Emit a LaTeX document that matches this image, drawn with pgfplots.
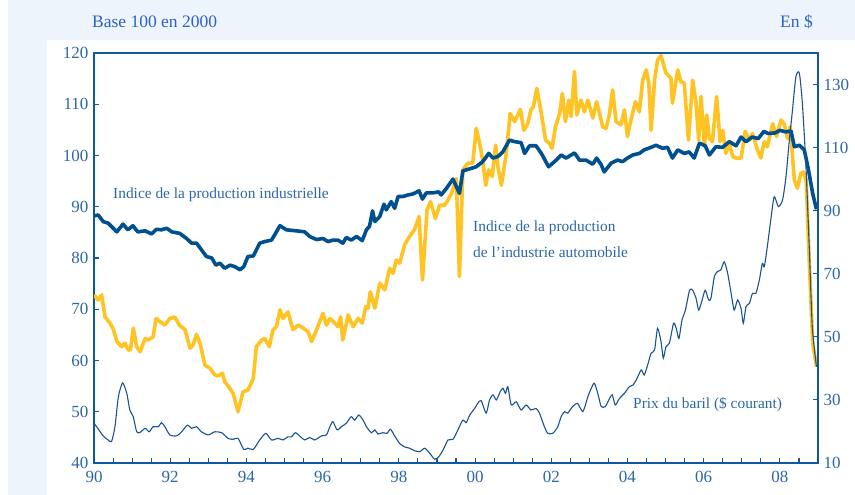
\documentclass[border=0pt]{standalone}
\usepackage{pgfplots}
\usepackage{pgfplotstable}
\pgfplotsset{compat=1.18}
\usepackage{fontspec}
\setmainfont{Liberation Serif}
\definecolor{bgblue}{HTML}{EDF4FC}
\definecolor{axblue}{HTML}{11589A}
\definecolor{ipblue}{HTML}{00508F}
\definecolor{autoyel}{HTML}{FFC324}
\definecolor{oilblue}{HTML}{1A5490}
\definecolor{txtblue}{HTML}{2C68A6}
\definecolor{titleblue}{HTML}{2E62C8}

\pgfplotstableread{
t v
1990.00 88.2
1990.11 88.4
1990.24 87.1
1990.37 86.8
1990.60 85.1
1990.76 86.6
1990.89 85.5
1991.02 86.3
1991.15 85.1
1991.34 85.3
1991.51 84.7
1991.64 85.6
1991.77 85.5
1991.91 85.8
1992.04 85.1
1992.25 84.8
1992.43 83.8
1992.56 82.9
1992.69 82.9
1992.82 81.6
1992.95 80.3
1993.09 80.0
1993.20 78.6
1993.30 79.0
1993.43 78.0
1993.57 78.6
1993.70 78.3
1993.83 77.7
1993.93 78.3
1994.04 80.3
1994.18 80.4
1994.35 82.9
1994.48 83.2
1994.66 83.5
1994.74 84.5
1994.88 86.3
1995.05 85.5
1995.31 85.3
1995.53 85.1
1995.66 84.2
1995.84 83.6
1996.01 83.8
1996.14 83.2
1996.27 83.5
1996.40 83.5
1996.53 82.9
1996.62 84.0
1996.75 83.5
1996.89 84.2
1997.04 83.4
1997.15 85.5
1997.23 86.2
1997.31 89.2
1997.37 87.1
1997.50 88.1
1997.61 90.5
1997.67 89.4
1997.80 91.0
1997.89 89.7
1997.98 92.0
1998.11 92.0
1998.24 92.3
1998.37 92.5
1998.53 93.1
1998.62 91.5
1998.72 92.7
1998.89 92.7
1999.05 92.9
1999.11 92.3
1999.25 93.6
1999.42 95.4
1999.59 92.6
1999.68 97.0
1999.86 97.4
2000.03 97.8
2000.20 98.8
2000.36 100.4
2000.47 99.5
2000.60 99.8
2000.73 100.7
2000.90 103.0
2001.04 102.7
2001.21 102.5
2001.30 100.4
2001.43 101.9
2001.60 101.9
2001.74 100.4
2001.93 97.8
2002.13 99.1
2002.26 100.1
2002.39 99.5
2002.61 100.5
2002.74 99.1
2002.91 99.1
2003.09 98.3
2003.19 99.5
2003.31 98.2
2003.39 96.8
2003.57 98.5
2003.74 99.1
2003.87 98.8
2004.00 99.5
2004.14 100.1
2004.31 100.4
2004.44 101.1
2004.62 101.6
2004.75 102.0
2004.92 101.4
2005.05 101.6
2005.18 99.5
2005.32 101.1
2005.49 100.4
2005.62 100.7
2005.75 99.5
2005.89 102.4
2006.04 101.9
2006.15 100.1
2006.32 101.7
2006.50 101.6
2006.67 102.7
2006.85 101.9
2006.98 103.6
2007.11 102.7
2007.27 103.6
2007.43 103.3
2007.58 104.7
2007.69 104.3
2007.87 104.4
2008.00 104.9
2008.16 104.6
2008.29 104.8
2008.38 101.7
2008.51 102.0
2008.64 101.1
2008.75 97.2
2008.86 92.6
2008.96 89.5
}\ipdata

\pgfplotstableread{
t v
1990.00 72.8
1990.11 71.8
1990.20 72.8
1990.29 68.5
1990.42 67.3
1990.51 66.0
1990.60 63.7
1990.73 62.7
1990.81 63.4
1990.90 62.0
1990.96 62.2
1991.03 66.3
1991.12 62.7
1991.21 61.7
1991.34 64.3
1991.42 64.0
1991.55 64.6
1991.63 68.2
1991.73 67.6
1991.86 66.9
1991.99 68.2
1992.12 68.5
1992.24 66.9
1992.39 66.0
1992.52 62.4
1992.60 63.0
1992.69 65.1
1992.78 63.4
1992.91 59.1
1993.04 58.5
1993.17 57.2
1993.26 57.0
1993.37 57.5
1993.43 55.9
1993.56 54.6
1993.65 53.6
1993.78 50.0
1993.91 53.9
1994.04 54.2
1994.18 56.5
1994.26 62.7
1994.40 64.0
1994.48 64.3
1994.60 62.7
1994.70 66.0
1994.79 66.6
1994.88 69.9
1994.96 68.2
1995.09 69.5
1995.22 66.0
1995.36 66.9
1995.49 66.3
1995.62 65.6
1995.71 63.7
1995.84 66.0
1996.01 69.2
1996.10 66.9
1996.19 68.2
1996.32 67.3
1996.40 66.6
1996.47 68.5
1996.53 64.0
1996.67 68.9
1996.80 66.6
1996.93 68.2
1997.04 67.3
1997.13 70.5
1997.19 70.2
1997.25 73.4
1997.37 70.2
1997.50 75.1
1997.63 73.8
1997.76 78.0
1997.85 77.0
1997.93 79.6
1998.02 79.0
1998.15 82.5
1998.28 84.2
1998.41 85.5
1998.53 88.1
1998.62 75.7
1998.74 89.4
1998.83 91.0
1998.96 87.7
1999.07 90.3
1999.20 90.3
1999.29 91.3
1999.38 92.6
1999.51 95.5
1999.59 76.4
1999.68 97.2
1999.81 98.5
1999.94 98.5
2000.03 105.3
2000.12 102.4
2000.20 99.1
2000.28 94.2
2000.36 97.2
2000.45 95.9
2000.54 102.0
2000.60 97.8
2000.69 94.2
2000.82 100.4
2000.92 108.2
2001.04 106.6
2001.19 109.0
2001.28 104.9
2001.38 106.2
2001.47 109.0
2001.53 109.5
2001.62 113.1
2001.74 108.2
2001.85 103.0
2001.95 102.4
2002.02 101.4
2002.11 105.6
2002.22 108.2
2002.29 112.1
2002.37 106.6
2002.46 110.8
2002.52 107.6
2002.61 116.4
2002.67 107.9
2002.78 110.8
2002.87 108.5
2002.96 110.8
2003.09 107.3
2003.19 110.5
2003.35 105.6
2003.44 105.3
2003.53 108.2
2003.61 112.8
2003.70 106.6
2003.83 106.0
2003.92 108.9
2004.00 103.7
2004.09 106.9
2004.21 110.5
2004.31 108.5
2004.40 114.7
2004.49 116.7
2004.56 114.1
2004.62 104.9
2004.71 114.7
2004.79 118.6
2004.88 119.5
2005.01 116.1
2005.14 115.1
2005.18 110.2
2005.32 116.7
2005.40 114.4
2005.49 114.1
2005.60 103.0
2005.71 114.7
2005.80 110.2
2005.87 103.0
2005.93 111.5
2006.02 101.7
2006.08 107.9
2006.15 103.3
2006.23 102.7
2006.34 111.5
2006.43 102.7
2006.50 104.9
2006.58 100.4
2006.67 102.4
2006.76 99.8
2006.85 99.5
2006.98 99.5
2007.09 104.7
2007.20 103.0
2007.28 104.3
2007.41 101.1
2007.50 99.5
2007.59 102.7
2007.67 101.7
2007.81 106.2
2007.91 103.7
2008.03 106.9
2008.11 106.2
2008.20 103.3
2008.27 105.6
2008.38 95.2
2008.46 93.6
2008.55 96.5
2008.61 96.8
2008.69 95.2
2008.77 79.6
2008.86 63.4
2008.96 58.8
}\autodata

\pgfplotstableread{
t v
1990.00 22.6
1990.07 21.5
1990.24 18.6
1990.37 17.3
1990.46 16.8
1990.55 21.5
1990.64 31.0
1990.75 35.4
1990.86 32.1
1990.94 26.8
1991.03 24.7
1991.12 19.9
1991.21 19.7
1991.34 21.0
1991.45 19.9
1991.55 21.5
1991.69 21.5
1991.77 22.8
1991.86 21.5
1991.99 18.9
1992.17 18.6
1992.30 19.9
1992.45 22.0
1992.56 21.0
1992.69 21.5
1992.82 19.9
1993.00 18.9
1993.17 19.9
1993.35 19.6
1993.52 17.8
1993.65 17.5
1993.78 17.8
1993.93 14.3
1994.04 14.7
1994.18 14.3
1994.35 17.3
1994.51 19.4
1994.66 17.3
1994.83 17.8
1994.96 17.3
1995.09 18.3
1995.18 18.3
1995.29 19.6
1995.42 18.3
1995.53 17.3
1995.66 18.1
1995.79 17.3
1995.97 18.6
1996.10 18.9
1996.19 21.5
1996.27 23.1
1996.38 20.5
1996.49 21.5
1996.62 22.6
1996.75 24.7
1996.84 23.6
1996.95 25.2
1997.06 23.6
1997.15 21.5
1997.28 19.6
1997.37 20.5
1997.45 19.2
1997.58 19.6
1997.69 19.4
1997.78 20.7
1997.89 18.6
1998.02 16.2
1998.15 15.1
1998.28 14.7
1998.41 13.9
1998.55 13.6
1998.68 14.7
1998.81 13.1
1998.94 11.2
1999.05 12.0
1999.16 14.1
1999.29 17.3
1999.42 17.5
1999.55 20.5
1999.68 23.6
1999.77 22.8
1999.86 25.2
1999.99 27.3
2000.07 28.9
2000.16 29.8
2000.29 25.8
2000.38 30.0
2000.47 31.6
2000.56 30.0
2000.66 32.6
2000.73 33.7
2000.80 32.1
2000.86 34.2
2000.95 28.4
2001.08 29.4
2001.21 26.8
2001.34 28.4
2001.47 26.8
2001.60 27.3
2001.69 25.8
2001.82 21.5
2001.91 19.4
2002.04 19.4
2002.17 21.5
2002.26 24.7
2002.35 26.3
2002.43 25.8
2002.56 27.9
2002.69 28.9
2002.83 26.3
2002.96 31.0
2003.05 33.7
2003.13 35.3
2003.22 32.1
2003.31 27.9
2003.42 27.9
2003.51 30.0
2003.60 31.6
2003.68 28.4
2003.79 30.5
2003.92 32.1
2004.05 34.2
2004.14 34.7
2004.23 36.3
2004.36 39.5
2004.44 37.9
2004.53 41.1
2004.62 44.8
2004.71 45.8
2004.79 52.7
2004.88 48.5
2004.94 43.2
2005.01 46.9
2005.10 48.0
2005.21 54.3
2005.28 52.7
2005.35 49.5
2005.43 55.3
2005.52 58.5
2005.63 64.8
2005.71 64.8
2005.80 62.2
2005.87 58.5
2005.96 61.7
2006.04 64.8
2006.13 61.7
2006.19 62.2
2006.28 69.1
2006.36 70.7
2006.45 71.2
2006.54 73.8
2006.63 70.1
2006.72 63.8
2006.80 58.5
2006.89 61.7
2006.98 59.0
2007.04 54.3
2007.11 59.6
2007.20 60.6
2007.28 63.8
2007.37 63.8
2007.46 68.0
2007.54 73.3
2007.59 72.2
2007.67 78.6
2007.76 87.0
2007.85 94.4
2007.96 91.3
2008.07 93.4
2008.16 100.8
2008.24 111.4
2008.33 121.9
2008.42 132.5
2008.51 133.6
2008.59 124.0
2008.68 105.0
2008.77 78.6
2008.85 53.2
2008.96 40.5
}\oildata

\pgfplotsset{
  common/.style={
    at={(94pt,32pt)}, anchor=south west, scale only axis,
    width=724pt, height=410pt,
    xmin=1990, xmax=2009,
    axis line style={draw=axblue, line width=1.6pt},
    every tick/.style={draw=axblue, line width=1.1pt},
    major tick length=5pt, minor tick length=5pt,
    tick align=inside,
    /pgf/number format/assume math mode=true,
    tick label style={font=\fontsize{17}{17}\selectfont, text=txtblue},
  }
}

\begin{document}
\begin{tikzpicture}[x=1pt,y=1pt]
\fill[white] (0,0) rectangle (855,495);
\fill[bgblue] (8,0) rectangle (855,495);
\fill[white] (47,0) rectangle (855,455);

\begin{axis}[common,
  ymin=40, ymax=120,
  ytick={40,50,...,120},
  xtick={1990,1992,...,2008},
  xticklabels={90,92,94,96,98,00,02,04,06,08},
  minor xtick={1990.5,1991,1991.5,1992.5,1993,1993.5,1994.5,1995,1995.5,1996.5,1997,1997.5,1998.5,1999,1999.5,2000.5,2001,2001.5,2002.5,2003,2003.5,2004.5,2005,2005.5,2006.5,2007,2007.5,2008.5},
  xtick pos=left, ytick pos=left,
  yticklabel style={xshift=-2pt},
  xticklabel style={yshift=-4.5pt},
]
\addplot[autoyel, line width=3.6pt, line join=round] table[x=t,y=v]{\autodata};
\addplot[ipblue, line width=3.6pt, line join=round] table[x=t,y=v]{\ipdata};
\end{axis}

\begin{axis}[common,
  ymin=10, ymax=140,
  ytick={10,30,...,130},
  axis x line=none, axis y line*=right,
  yticklabel style={xshift=2pt},
]
\addplot[oilblue, line width=1.1pt, smooth, tension=0.4] table[x=t,y=v]{\oildata};
\end{axis}

\node[anchor=west, inner sep=0, text=titleblue, font=\fontsize{17.5}{17.5}\selectfont] at (92,473) {Base 100 en 2000};
\node[anchor=east, inner sep=0, text=titleblue, font=\fontsize{17.5}{17.5}\selectfont] at (813,473) {En \$};
\node[anchor=west, inner sep=0, text=txtblue, font=\fontsize{15.4}{15.4}\selectfont] at (113,300) {Indice de la production industrielle};
\node[anchor=west, inner sep=0, text=txtblue, font=\fontsize{15.4}{15.4}\selectfont] at (473,267) {Indice de la production};
\node[anchor=west, inner sep=0, text=txtblue, font=\fontsize{15.4}{15.4}\selectfont] at (473,242.3) {de l’industrie automobile};
\node[anchor=west, inner sep=0, text=txtblue, font=\fontsize{15.4}{15.4}\selectfont] at (633,90) {Prix du baril (\$ courant)};
\end{tikzpicture}
\end{document}
